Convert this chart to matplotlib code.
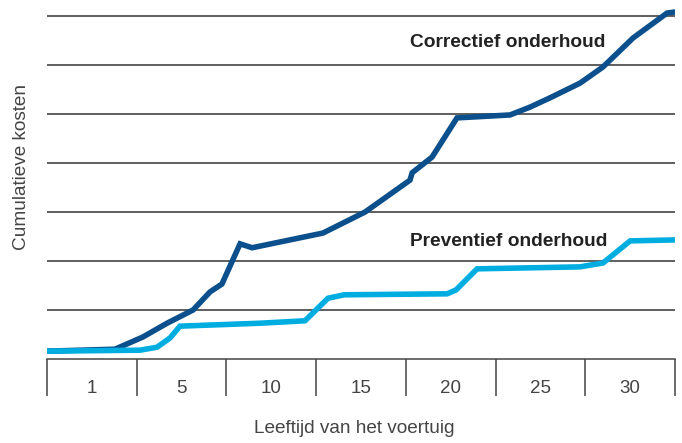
import matplotlib.pyplot as plt

# Leeftijd (jaren) en cumulatieve kosten
leeftijd_corr = [0, 3.79, 5.35, 6.69, 8.14, 9.09, 9.75, 10.76, 11.43, 15.38, 17.73,
                 20.23, 20.35, 21.46, 22.85, 25.81, 26.92, 28.04, 29.71, 30.99,
                 32.66, 34.56, 35.0]
kosten_corr = [0.16, 0.20, 0.45, 0.73, 1.00, 1.37, 1.53, 2.35, 2.27, 2.57, 3.00,
               3.65, 3.80, 4.12, 4.92, 4.98, 5.14, 5.33, 5.63, 5.96,
               6.55, 7.06, 7.08]

leeftijd_prev = [0, 5.18, 6.13, 6.86, 7.41, 11.87, 14.38, 15.66, 16.56, 22.30,
                 22.80, 23.97, 29.71, 30.99, 32.50, 35.0]
kosten_prev = [0.16, 0.18, 0.24, 0.43, 0.67, 0.73, 0.78, 1.24, 1.31, 1.33,
               1.41, 1.84, 1.88, 1.96, 2.41, 2.43]

vakgrenzen = [0, 5, 10, 15, 20, 25, 30, 35]
vak_labels = ['1', '5', '10', '15', '20', '25', '30']
gridlijnen = [1, 2, 3, 4, 5, 6, 7]

plt.rcParams['font.family'] = ['Liberation Sans', 'DejaVu Sans']

fig = plt.figure(figsize=(6.82, 4.43), dpi=100)
ax = fig.add_axes([47 / 682, 84 / 443, 628 / 682, 350.4 / 443])

ax.plot(leeftijd_corr, kosten_corr, color='#0b4f8c', linewidth=4, solid_joinstyle='miter', zorder=3)
ax.plot(leeftijd_prev, kosten_prev, color='#00ade0', linewidth=4, solid_joinstyle='miter', zorder=3)

ax.text(20.23, 6.45, 'Correctief onderhoud', fontsize=13.8, fontweight='bold',
        color='#222222', va='center', ha='left')
ax.text(20.23, 2.39, 'Preventief onderhoud', fontsize=13.8, fontweight='bold',
        color='#222222', va='center', ha='left')

ax.set_xlim(0, 35)
ax.set_ylim(0, 7.15)

# gridlijnen
ax.set_yticks(gridlijnen)
ax.tick_params(axis='y', length=0, labelleft=False)
ax.grid(axis='y', color='#333333', linewidth=1.1)
ax.set_axisbelow(True)

# vakken onder de as
centra = [(a + b) / 2 for a, b in zip(vakgrenzen[:-1], vakgrenzen[1:])]
ax.set_xticks(vakgrenzen)
ax.set_xticklabels([])
ax.set_xticks(centra, minor=True)
ax.set_xticklabels(vak_labels, minor=True)
ax.tick_params(axis='x', which='major', length=26.6, width=1.1, color='#444444', direction='out')
ax.tick_params(axis='x', which='minor', length=0, pad=15, labelsize=13.5, labelcolor='#444444')

for s in ['left', 'right', 'top']:
    ax.spines[s].set_visible(False)
ax.spines['bottom'].set_color('#444444')
ax.spines['bottom'].set_linewidth(1.1)

ax.set_xlabel('Leeftijd van het voertuig', fontsize=13.7, color='#444444')
ax.xaxis.label.set_va('center')
ax.xaxis.set_label_coords(0.49, -0.197)
ax.set_ylabel('Cumulatieve kosten', fontsize=13.7, color='#444444')
ax.yaxis.label.set_va('center')
ax.yaxis.set_label_coords(-25 / 628, 0.548)

fig.savefig('out.png', dpi=100)
